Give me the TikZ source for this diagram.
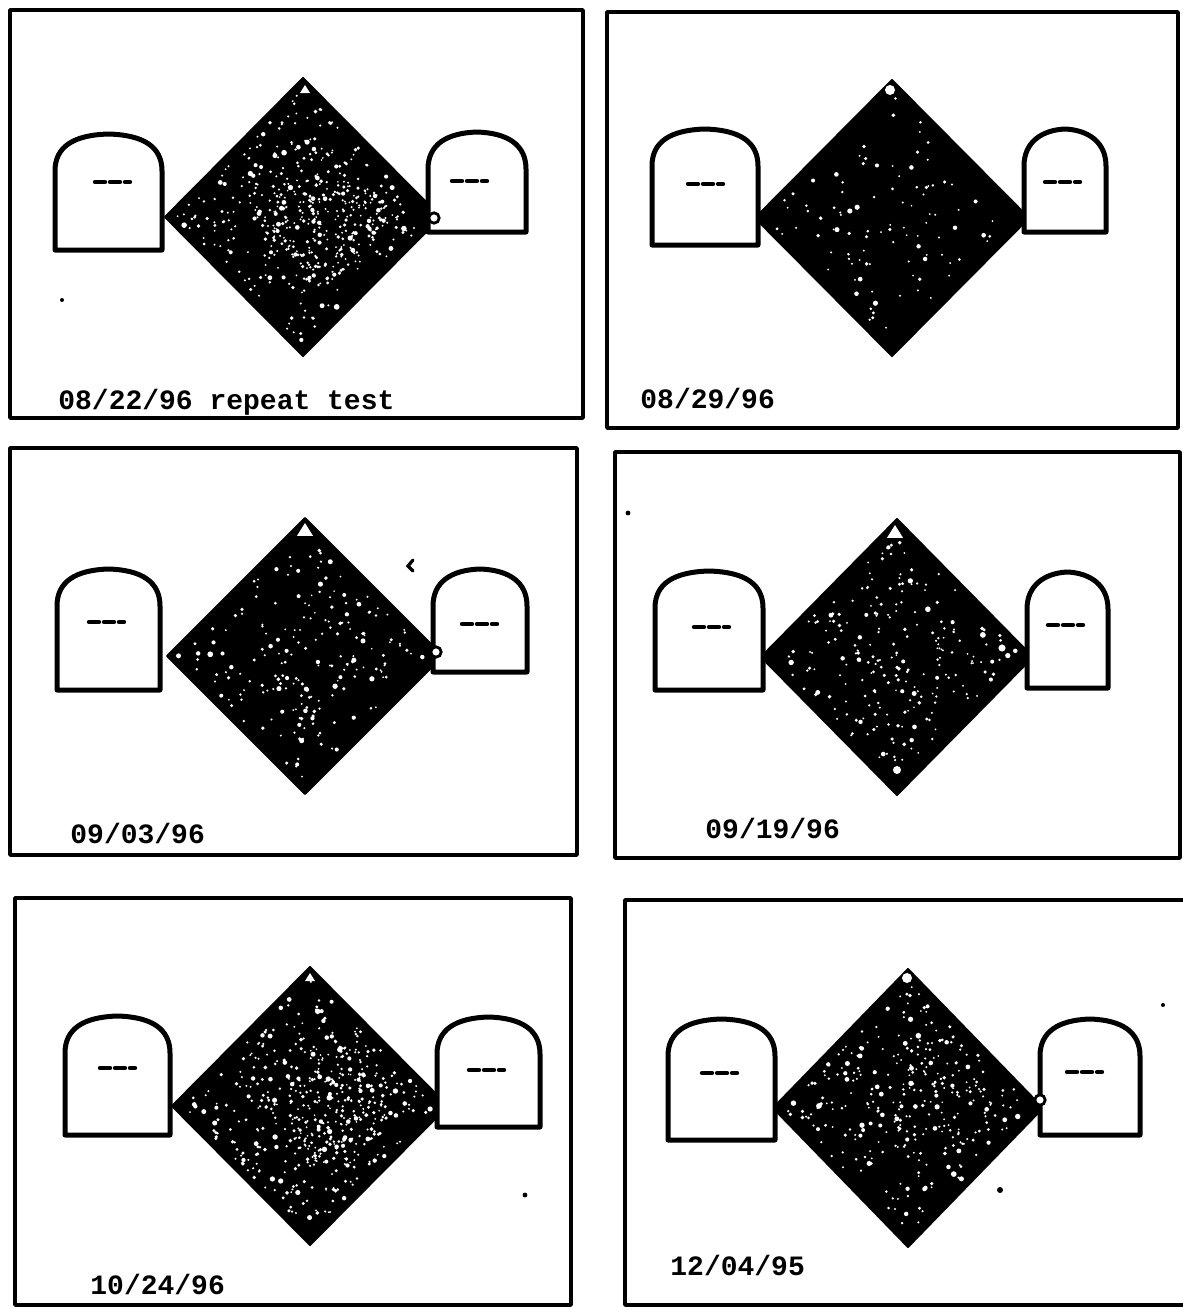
\documentclass[tikz,border=0pt]{standalone}
\usepackage{fontspec}
\newfontfamily\datefont{Liberation Mono}
\tikzset{
  x=0.5pt, y=-0.5pt,
  frame/.style={line width=1.8pt, line join=round},
  tomb/.style={line width=2.5pt, fill=white, draw=black, line join=round},
  gem/.style={fill=black, draw=black, line width=1pt, line join=round},
  datelabel/.style={font=\datefont\bfseries\fontsize{14}{16}\selectfont, anchor=base west, inner sep=0pt},
  blob/.style={line width=2.2pt, line cap=round},
  speck/.style={fill=white},
  stray/.style={fill=black},
}
% tombstone: name, x0, x1, ytop, ybot
\newcommand{\tombstone}[5]{%
  \path[tomb] (#2,#5) -- (#2,{#4+36}) .. controls (#2,{#4+12}) and ({#2+18},#4) .. ({(#2+#3)/2},{#4-1})
     .. controls ({#3-18},#4) and (#3,{#4+12}) .. (#3,{#4+36}) -- (#3,#5) -- cycle;
  \coordinate (#1) at ({(#2+#3)/2},{(#4+#5)/2});
}
% scribble text blob at x,y
\newcommand{\scrib}[2]{%
  \draw[blob] ({#1-18},#2) -- ({#1-8},#2);
  \draw[blob] ({#1-3},#2) -- ({#1+7},#2);
  \draw[blob] ({#1+12},#2) -- ({#1+17},#2);
}
% diamond: name, cx, cy, a, b, seed, count, dense-count
\newcommand{\gemstone}[8]{%
  \path[gem] ({#2-#4},#3) -- (#2,{#3-#5}) -- ({#2+#4},#3) -- (#2,{#3+#5}) -- cycle;
  \coordinate (#1) at (#2,#3);
  \pgfmathsetseed{#6}
  \foreach \i in {1,...,#7} {
    \pgfmathsetmacro\pu{0.04+0.92*rnd}
    \pgfmathsetmacro\pv{0.04+0.92*rnd}
    \pgfmathsetmacro\prad{0.5+1.0*rnd*rnd}
    \fill[speck] ({#2-#4+(\pu+\pv)*#4},{#3+(\pv-\pu)*#5}) circle[radius=\prad pt];
  }
  \foreach \i in {1,...,#8} {
    \pgfmathsetmacro\pu{0.3+0.55*rnd}
    \pgfmathsetmacro\pv{0.3+0.55*rnd}
    \pgfmathsetmacro\prad{0.45+0.8*rnd*rnd}
    \fill[speck] ({#2-#4+(\pu+\pv)*#4},{#3+(\pv-\pu)*#5}) circle[radius=\prad pt];
  }
}
\newcommand{\toptri}[3]{% cx, ytop, size
  \fill[white] ({#1-#3},{#2+5+1.6*#3}) -- (#1,{#2+5}) -- ({#1+#3},{#2+5+1.6*#3}) -- cycle;
}
\newcommand{\ring}[2]{% x,y
  \filldraw[fill=white, draw=black, line width=1.4pt] (#1,#2) circle[radius=2.6pt];
}
\begin{document}
\begin{tikzpicture}
\useasboundingbox (0,0) rectangle (1183,1307);
\fill[white] (0,0) rectangle (1183,1307);

% ---------- Panel 1 ----------
\draw[frame] (10,10) rectangle (583,418);
\gemstone{g1}{303}{217}{138}{139}{11}{280}{220}
\tombstone{l1}{55}{162}{135}{250}
\tombstone{r1}{428}{526}{133}{232}
\scrib{113}{182}
\scrib{470}{181}
\toptri{305}{80}{5}
\ring{434}{218}
\node[datelabel] (d1) at (58,409) {08/22/96 repeat test};
\fill[stray] (62,300) circle[radius=1pt];

% ---------- Panel 2 ----------
\draw[frame] (607,12) rectangle (1178,428);
\gemstone{g2}{892}{218}{137}{138}{22}{90}{10}
\tombstone{l2}{652}{758}{130}{245}
\tombstone{r2}{1024}{1106}{130}{232}
\scrib{706}{184}
\scrib{1063}{182}
\fill[white] (890,90) circle[radius=2.5pt];
\node[datelabel] (d2) at (640,408) {08/29/96};

% ---------- Panel 3 ----------
\draw[frame] (10,448) rectangle (577,855);
\gemstone{g3}{305}{656}{138}{138}{33}{170}{30}
\tombstone{l3}{57}{160}{570}{690}
\tombstone{r3}{433}{527}{570}{672}
\scrib{107}{622}
\scrib{480}{624}
\toptri{305}{518}{8}
\ring{436}{652}
\draw[line width=1.6pt, line cap=round] (413,560) -- (408,566) -- (413,571);
\node[datelabel] (d3) at (70,843) {09/03/96};

% ---------- Panel 4 ----------
\draw[frame] (615,452) rectangle (1180,858);
\gemstone{g4}{897}{657}{136}{138}{44}{190}{30}
\tombstone{l4}{655}{763}{572}{690}
\tombstone{r4}{1027}{1108}{573}{688}
\scrib{712}{627}
\scrib{1066}{625}
\toptri{895}{520}{8}
\ring{1002}{648}
\fill[white] (897,770) circle[radius=2pt];
\node[datelabel] (d4) at (705,838) {09/19/96};
\fill[stray] (628,513) circle[radius=1.2pt];

% ---------- Panel 5 ----------
\draw[frame] (15,898) rectangle (571,1305);
\gemstone{g5}{310}{1106}{138}{139}{55}{340}{160}
\tombstone{l5}{65}{170}{1017}{1135}
\tombstone{r5}{437}{540}{1018}{1127}
\scrib{118}{1068}
\scrib{487}{1070}
\toptri{310}{968}{5}
\node[datelabel] (d5) at (90,1294) {10/24/96};
\fill[stray] (525,1195) circle[radius=1.2pt];

% ---------- Panel 6 ----------
\draw[frame] (1183,900) -- (625,900) -- (625,1305) -- (1183,1305);
\gemstone{g6}{908}{1108}{135}{139}{66}{250}{60}
\tombstone{l6}{668}{775}{1020}{1140}
\tombstone{r6}{1040}{1140}{1020}{1135}
\scrib{720}{1073}
\scrib{1085}{1072}
\fill[white] (907,978) circle[radius=2.5pt];
\ring{1040}{1100}
\node[datelabel] (d6) at (670,1275) {12/04/95};
\fill[stray] (1163,1005) circle[radius=1pt];
\fill[stray] (1000,1190) circle[radius=1.5pt];
\end{tikzpicture}
\end{document}
